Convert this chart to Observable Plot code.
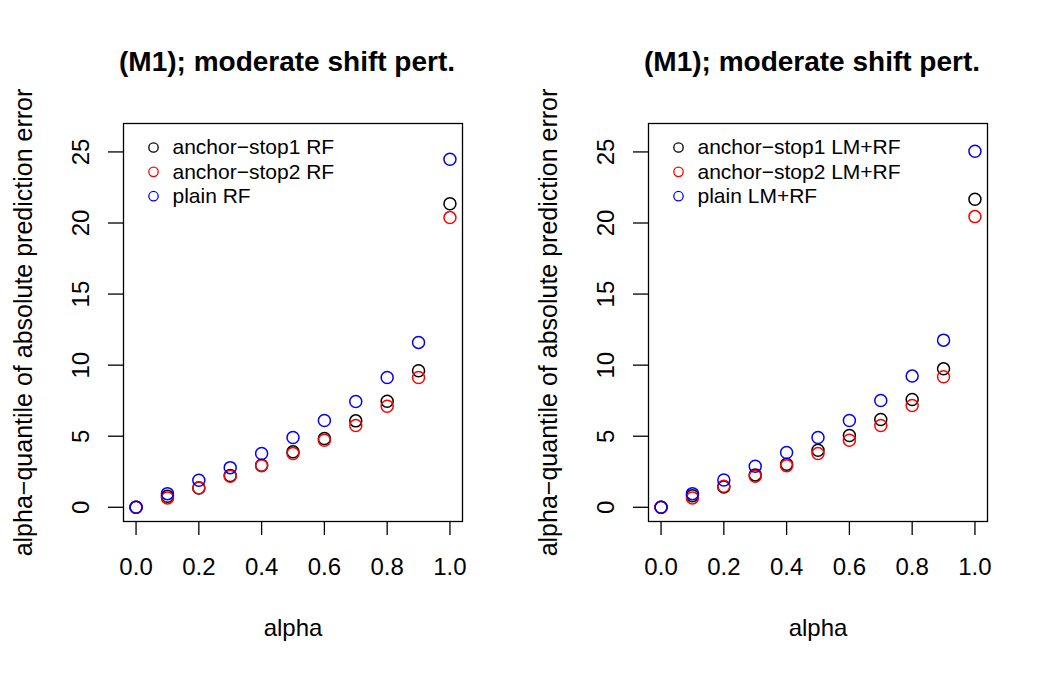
<!DOCTYPE html>
<html>
<head>
<meta charset="utf-8">
<script src="https://cdn.jsdelivr.net/npm/d3@7"></script>
<script src="https://cdn.jsdelivr.net/npm/@observablehq/plot@0.6"></script>
<style>
  html, body { margin: 0; padding: 0; background: #fff; }
  #wrap { display: flex; width: 1050px; height: 675px; }
  #wrap svg { display: block; }
</style>
</head>
<body>
<div id="wrap"></div>
<script>
// ---- data ----
const alphas = [0, 0.1, 0.2, 0.3, 0.4, 0.5, 0.6, 0.7, 0.8, 0.9, 1.0];

const rfStop1 = [0, 0.77, 1.36, 2.23, 2.96, 3.90, 4.84, 6.08, 7.46, 9.60, 21.36];
const rfStop2 = [0, 0.66, 1.38, 2.18, 2.93, 3.78, 4.72, 5.75, 7.11, 9.13, 20.38];
const rfPlain = [0, 0.96, 1.90, 2.79, 3.78, 4.91, 6.10, 7.44, 9.13, 11.60, 24.48];

const lmrfStop1 = [0, 0.82, 1.43, 2.28, 3.03, 4.01, 5.05, 6.17, 7.58, 9.74, 21.67];
const lmrfStop2 = [0, 0.66, 1.48, 2.18, 2.93, 3.78, 4.72, 5.75, 7.16, 9.18, 20.45];
const lmrfPlain = [0, 0.96, 1.92, 2.89, 3.85, 4.91, 6.10, 7.51, 9.23, 11.76, 25.05];

const seriesColors = ["black", "red", "blue"];
const rfLabels = ["anchor\u2212stop1 RF", "anchor\u2212stop2 RF", "plain RF"];
const lmrfLabels = ["anchor\u2212stop1 LM+RF", "anchor\u2212stop2 LM+RF", "plain LM+RF"];

const xTicks = [0, 0.2, 0.4, 0.6, 0.8, 1.0];
const yTicks = [0, 5, 10, 15, 20, 25];

const panelTitle = "(M1); moderate shift pert.";
const xLabel = "alpha";
const yLabel = "alpha\u2212quantile of absolute prediction error";

const FONT = "'Liberation Sans', Arial, Helvetica, sans-serif";

function build(seriesList, labels) {
  const legendRows = labels.map((label, s) => ({label, s}));
  const rows = [];
  seriesList.forEach((vals, s) => {
    vals.forEach((v, i) => rows.push({alpha: alphas[i], value: v, s}));
  });
  return Plot.plot({
    width: 525,
    height: 675,
    marginLeft: 123,
    marginRight: 63,
    marginTop: 123,
    marginBottom: 154,
    style: {fontFamily: FONT, background: "white", color: "black", overflow: "visible"},
    x: {domain: [-0.04, 1.04]},
    y: {domain: [-1.0, 27.0]},
    marks: [
      Plot.frame({stroke: "black", strokeWidth: 1.3}),
      Plot.axisX({ticks: xTicks, tickSize: 14, tickPadding: 22, tickFormat: d3.format(".1f"),
                  fontSize: 24, label: null, strokeWidth: 1.3}),
      Plot.axisY({ticks: yTicks, tickSize: 15, tickPadding: 20, tickRotate: -90,
                  fontSize: 24, label: null, strokeWidth: 1.3}),
      Plot.dot(rows, {x: "alpha", y: "value", r: 6, fill: "none",
                      stroke: d => seriesColors[d.s], strokeWidth: 1.5}),
      Plot.dot(legendRows, {frameAnchor: "top-left", dx: 30,
                            y: d => 27.0 - (24 + d.s * 24.3) / 14.2,
                            r: 4.7, fill: "none",
                            stroke: d => seriesColors[d.s], strokeWidth: 1.3}),
      Plot.text(legendRows, {frameAnchor: "left", dx: 49,
                             y: d => 27.0 - (24 + d.s * 24.3) / 14.2,
                             text: "label", fontSize: 21, textAnchor: "start",
                             lineAnchor: "middle"}),
      Plot.text([panelTitle], {frameAnchor: "top", dx: -6, dy: -53, text: d => d,
                               fontSize: 28, fontWeight: "bold", lineAnchor: "bottom"}),
      Plot.text([xLabel], {frameAnchor: "bottom", dy: 107, text: d => d, fontSize: 24,
                           lineAnchor: "middle"}),
      Plot.text([yLabel], {frameAnchor: "left", dx: -100, text: d => d, fontSize: 25,
                           rotate: -90, textAnchor: "middle", lineAnchor: "middle"})
    ]
  });
}

const wrap = document.getElementById("wrap");
wrap.appendChild(build([rfStop1, rfStop2, rfPlain], rfLabels));
wrap.appendChild(build([lmrfStop1, lmrfStop2, lmrfPlain], lmrfLabels));
</script>
</body>
</html>
